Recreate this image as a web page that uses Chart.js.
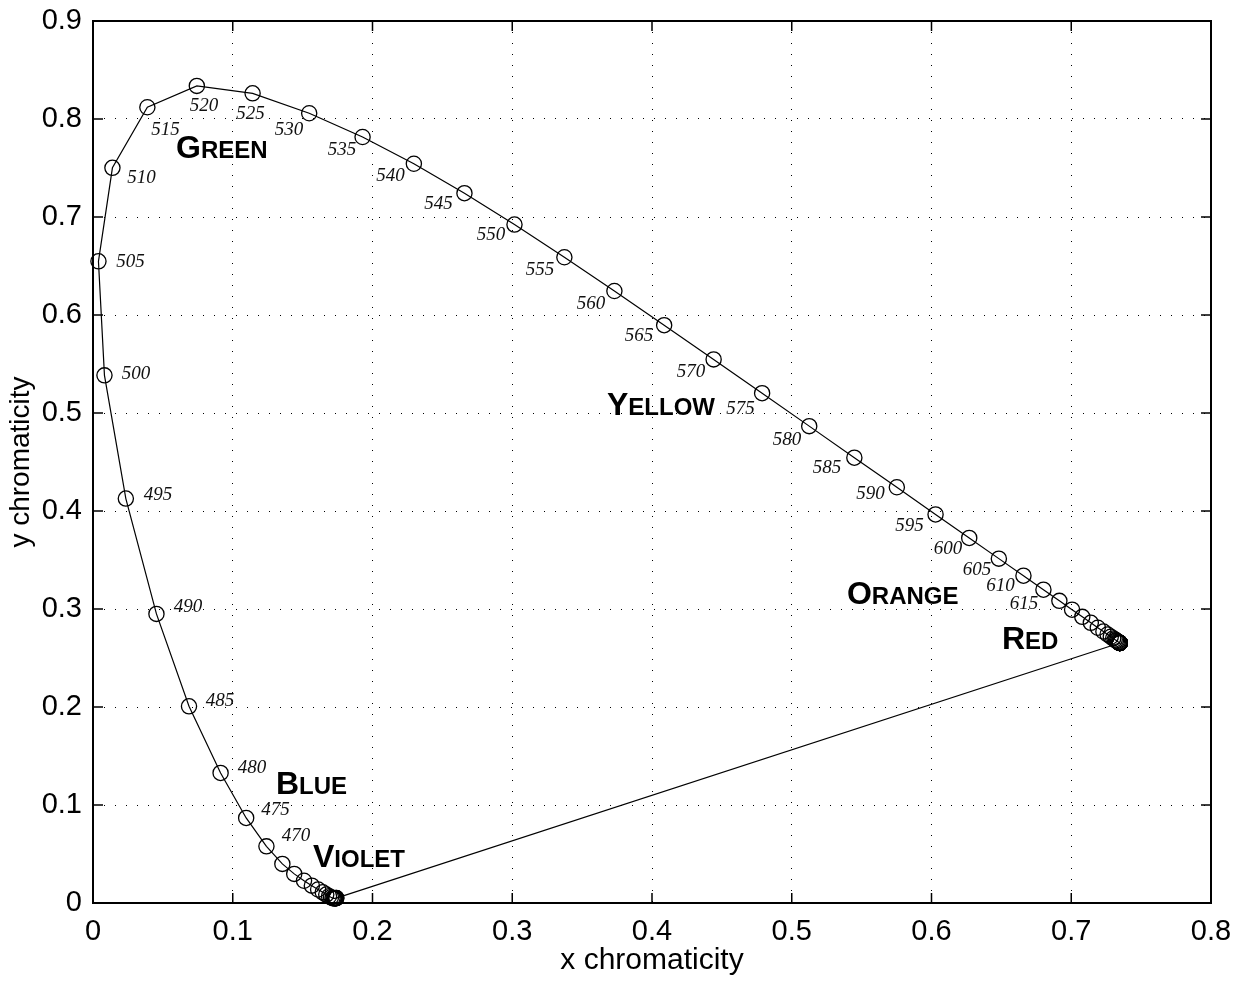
<!DOCTYPE html>
<html><head><meta charset="utf-8">
<script src="https://cdn.jsdelivr.net/npm/chart.js@4"></script>
<style>html,body{margin:0;padding:0;background:#fff;} #wrap{width:1241px;height:981px;}</style>
</head><body><div id="wrap"><canvas id="c" width="1241" height="981"></canvas></div>
<script>
// Spectral locus, 380..780 nm every 5 nm
const wavelengths = [380,385,390,395,400,405,410,415,420,425,430,435,440,445,450,455,460,465,470,475,480,485,490,495,500,505,510,515,520,525,530,535,540,545,550,555,560,565,570,575,580,585,590,595,600,605,610,615,620,625,630,635,640,645,650,655,660,665,670,675,680,685,690,695,700,705,710,715,720,725,730,735,740,745,750,755,760,765,770,775,780];
const xChromaticity = [0.1741,0.1740,0.1738,0.1736,0.1733,0.1730,0.1726,0.1721,0.1714,0.1703,0.1689,0.1669,0.1644,0.1611,0.1566,0.1510,0.1440,0.1355,0.1241,0.1096,0.0913,0.0687,0.0454,0.0235,0.0082,0.0039,0.0139,0.0389,0.0743,0.1142,0.1547,0.1929,0.2296,0.2658,0.3016,0.3373,0.3731,0.4087,0.4441,0.4788,0.5125,0.5448,0.5752,0.6029,0.6270,0.6482,0.6658,0.6801,0.6915,0.7006,0.7079,0.7140,0.7190,0.7230,0.7260,0.7283,0.7300,0.7311,0.7320,0.7327,0.7334,0.7340,0.7344,0.7346,0.7347,0.7347,0.7347,0.7347,0.7347,0.7347,0.7347,0.7347,0.7347,0.7347,0.7347,0.7347,0.7347,0.7347,0.7347,0.7347,0.7347];
const yChromaticity = [0.0050,0.0050,0.0049,0.0049,0.0048,0.0048,0.0048,0.0048,0.0051,0.0058,0.0069,0.0086,0.0109,0.0138,0.0177,0.0227,0.0297,0.0399,0.0578,0.0868,0.1327,0.2007,0.2950,0.4127,0.5384,0.6548,0.7502,0.8120,0.8338,0.8262,0.8059,0.7816,0.7543,0.7243,0.6923,0.6589,0.6245,0.5896,0.5547,0.5202,0.4866,0.4544,0.4242,0.3965,0.3725,0.3514,0.3340,0.3197,0.3083,0.2993,0.2920,0.2859,0.2809,0.2770,0.2740,0.2717,0.2700,0.2689,0.2680,0.2673,0.2666,0.2660,0.2656,0.2654,0.2653,0.2653,0.2653,0.2653,0.2653,0.2653,0.2653,0.2653,0.2653,0.2653,0.2653,0.2653,0.2653,0.2653,0.2653,0.2653,0.2653];

// Wavelength annotations (label centres, in chromaticity units)
const labelWavelengths = [470,475,480,485,490,495,500,505,510,515,520,525,530,535,540,545,550,555,560,565,570,575,580,585,590,595,600,605,610,615];
const labelX = [0.1453,0.1306,0.1138,0.0909,0.0680,0.0465,0.0308,0.0268,0.0347,0.0519,0.0794,0.1127,0.1403,0.1782,0.2129,0.2472,0.2848,0.3199,0.3564,0.3907,0.4279,0.4633,0.4966,0.5252,0.5564,0.5843,0.6118,0.6326,0.6494,0.6662];
const labelY = [0.0694,0.0959,0.1388,0.2071,0.3031,0.4173,0.5408,0.6551,0.7408,0.7898,0.8143,0.8061,0.7898,0.7694,0.7429,0.7143,0.6827,0.6469,0.6122,0.5796,0.5429,0.5051,0.4735,0.4449,0.4184,0.3857,0.3622,0.3408,0.3245,0.3061];

// Colour region names (left/baseline anchors, in chromaticity units)
const colorNames = ['GREEN','YELLOW','ORANGE','RED','BLUE','VIOLET'];
const colorX = [0.0594,0.3678,0.5395,0.6504,0.1309,0.1574];
const colorY = [0.7602,0.4980,0.3051,0.2592,0.1112,0.0367];

const xTicks = [0,0.1,0.2,0.3,0.4,0.5,0.6,0.7,0.8];
const yTicks = [0,0.1,0.2,0.3,0.4,0.5,0.6,0.7,0.8,0.9];

const locus = wavelengths.map((w,i)=>({x:xChromaticity[i], y:yChromaticity[i]}));
const last = wavelengths.length-1;
const purpleLine = [{x:xChromaticity[last], y:yChromaticity[last]},{x:xChromaticity[0], y:yChromaticity[0]}];

const fmt = v => (Math.abs(v)<1e-9 ? '0' : Number(v).toFixed(1));

const annotations = {
  id:'annotations',
  afterDatasetsDraw(chart){
    const ctx = chart.ctx, xs = chart.scales.x, ys = chart.scales.y;
    ctx.save();
    ctx.fillStyle = '#111';
    ctx.font = 'italic 19px "Liberation Serif", "DejaVu Serif", serif';
    ctx.textAlign = 'center';
    ctx.textBaseline = 'alphabetic';
    labelWavelengths.forEach((w,i)=>{
      ctx.fillText(String(w), xs.getPixelForValue(labelX[i]), ys.getPixelForValue(labelY[i]) + 6);
    });
    ctx.textAlign = 'left';
    ctx.fillStyle = '#000';
    colorNames.forEach((name,i)=>{
      let px = xs.getPixelForValue(colorX[i]);
      const py = ys.getPixelForValue(colorY[i]);
      ctx.font = 'bold 32px "Liberation Sans", Arial, sans-serif';
      ctx.fillText(name[0], px, py);
      px += ctx.measureText(name[0]).width;
      ctx.font = 'bold 24px "Liberation Sans", Arial, sans-serif';
      ctx.fillText(name.slice(1), px, py);
    });
    ctx.restore();
  },
  afterDraw(chart){
    const ctx = chart.ctx, a = chart.chartArea, xs = chart.scales.x, ys = chart.scales.y;
    ctx.save();
    ctx.strokeStyle = '#000';
    ctx.lineWidth = 1.5;
    ctx.beginPath();
    xTicks.forEach(v=>{
      const p = xs.getPixelForValue(v);
      ctx.moveTo(p, a.bottom); ctx.lineTo(p, a.bottom-10);
      ctx.moveTo(p, a.top); ctx.lineTo(p, a.top+10);
    });
    yTicks.forEach(v=>{
      const p = ys.getPixelForValue(v);
      ctx.moveTo(a.left, p); ctx.lineTo(a.left+10, p);
      ctx.moveTo(a.right, p); ctx.lineTo(a.right-10, p);
    });
    ctx.stroke();
    ctx.lineWidth = 2;
    ctx.strokeRect(a.left, a.top, a.right-a.left, a.bottom-a.top);
    ctx.restore();
  }
};

new Chart(document.getElementById('c'), {
  type:'scatter',
  data:{datasets:[
    {data:locus, showLine:true, borderColor:'#000', borderWidth:1.2, tension:0,
     pointStyle:'circle', pointRadius:7.6, pointBorderWidth:1.3, pointBorderColor:'#000',
     pointBackgroundColor:'rgba(0,0,0,0)', clip:false},
    {data:purpleLine, showLine:true, borderColor:'#000', borderWidth:1.2, pointRadius:0, clip:false}
  ]},
  options:{
    responsive:false, animation:false, devicePixelRatio:1, events:[],
    layout:{padding:{left:0, top:21, right:30, bottom:0}},
    plugins:{legend:{display:false}, tooltip:{enabled:false}},
    scales:{
      x:{type:'linear', min:0, max:0.8,
         afterBuildTicks(s){ s.ticks = xTicks.map(v=>({value:v})); },
         afterFit(s){ s.height = 78; s.paddingLeft = 0; s.paddingRight = 0; },
         ticks:{callback:fmt, color:'#000', padding:12, maxRotation:0, autoSkip:false,
                font:{family:'"Liberation Sans", Arial, sans-serif', size:29}},
         grid:{color:'#000', lineWidth:1, drawTicks:false},
         border:{display:false, dash:[1,10]},
         title:{display:true, text:'x chromaticity', color:'#000', padding:{top:0,bottom:2},
                font:{family:'"Liberation Sans", Arial, sans-serif', size:30}}},
      y:{type:'linear', min:0, max:0.9,
         afterBuildTicks(s){ s.ticks = yTicks.map(v=>({value:v})); },
         afterFit(s){ s.width = 93; s.paddingTop = 0; s.paddingBottom = 0; },
         ticks:{callback:fmt, color:'#000', padding:11, autoSkip:false,
                font:{family:'"Liberation Sans", Arial, sans-serif', size:29}},
         grid:{color:'#000', lineWidth:1, drawTicks:false},
         border:{display:false, dash:[1,10]},
         title:{display:true, text:'y chromaticity', color:'#000', padding:{top:4,bottom:0},
                font:{family:'"Liberation Sans", Arial, sans-serif', size:28}}}
    }
  },
  plugins:[annotations]
});
</script></body></html>
